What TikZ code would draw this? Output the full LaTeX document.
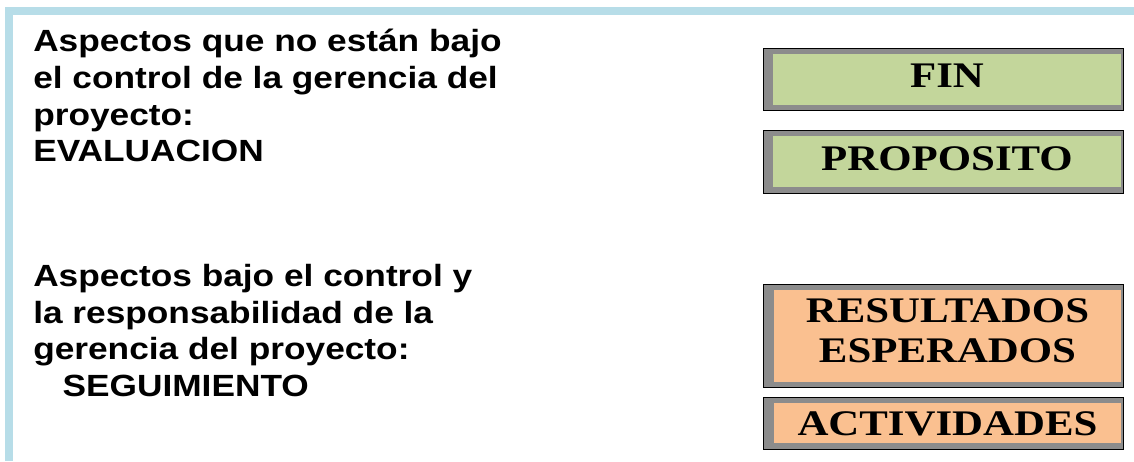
\documentclass[tikz,border=0pt]{standalone}
\usepackage{fontspec}
\setmainfont[FakeStretch=1.19]{Liberation Serif}
\newfontfamily\arialfont[FakeStretch=1.15]{Liberation Sans}
\definecolor{borde}{HTML}{B7DDE8}
\definecolor{verde}{HTML}{C3D69B}
\definecolor{naranja}{HTML}{FAC090}
\definecolor{marco}{HTML}{8C8C8C}
\tikzset{
  frame/.style={draw=black, line width=0.6pt, fill=marco, inner sep=0pt},
  level/.style={inner sep=0pt, align=center,
    font=\fontsize{27}{30}\selectfont\bfseries},
  aspect/.style={anchor=north west, inner sep=0pt, align=left,
    font=\arialfont\fontsize{23}{27.5}\selectfont\bfseries}
}
\begin{document}
\begin{tikzpicture}[x=0.75pt, y=-0.75pt]
      \useasboundingbox (0,0) rectangle (1134,461);
      % light blue border
      \fill[borde] (5,7) rectangle (1134,15);
      \fill[borde] (5,7) rectangle (13,461);
      % left texts
      \node[aspect] (evaluacion) at (33,29)
        {Aspectos que no están bajo\\el control de la gerencia del\\proyecto:\\EVALUACION};
      \node[aspect] (seguimiento) at (33,264)
        {Aspectos bajo el control y\\la responsabilidad de la\\gerencia del proyecto:\\\hspace*{22pt}SEGUIMIENTO};
      % boxes
      \node[frame, minimum width=270pt, minimum height=46.5pt] (finframe) at (943,79) {};
      \node[level, fill=verde, minimum width=261pt, minimum height=38.25pt,
        text height=16pt, text depth=4.75pt] (fin) at (947,79.5) {FIN};
      \node[frame, minimum width=270pt, minimum height=47.25pt] (propframe) at (943,161.5) {};
      \node[level, fill=verde, minimum width=261pt, minimum height=38.25pt,
        text height=17pt, text depth=4.25pt] (proposito) at (947,161.5) {PROPOSITO};
      \node[frame, minimum width=270pt, minimum height=77.25pt] (resframe) at (943,335.5) {};
      \node[level, fill=naranja, minimum width=260.25pt, minimum height=69pt,
        text height=40pt, text depth=1pt] (resultados) at (947.5,336) {RESULTADOS\\ESPERADOS};
      \node[frame, minimum width=270pt, minimum height=39pt] (actframe) at (943,423) {};
      \node[level, fill=naranja, minimum width=260.25pt, minimum height=30pt,
        text height=20pt, text depth=2pt] (actividades) at (947.5,423) {ACTIVIDADES};
\end{tikzpicture}
\end{document}
